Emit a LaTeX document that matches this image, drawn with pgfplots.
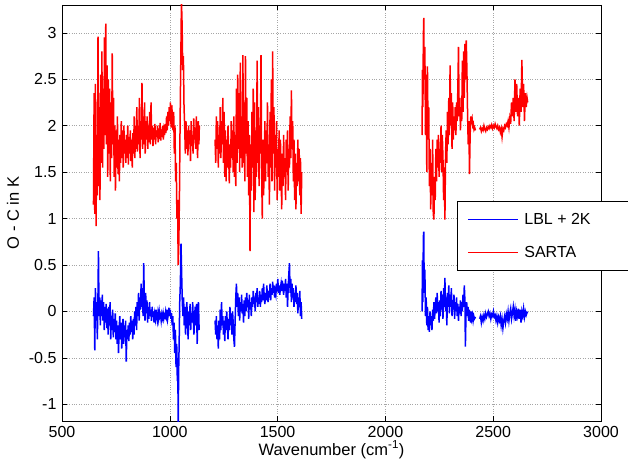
\documentclass[border=0pt]{standalone}
\usepackage{pgfplots}
\pgfplotsset{compat=1.18}
\usepackage{fontspec}
\setmainfont{Liberation Sans}
\definecolor{lblblue}{RGB}{0,0,255}
\definecolor{sartared}{RGB}{255,0,0}
\begin{document}
\begin{tikzpicture}
\begin{axis}[
  scale only axis,
  width=539pt, height=416pt,
  xmin=500, xmax=3000, ymin=-1.18, ymax=3.3,
  xtick={500,1000,...,3000},
  ytick={-1,-0.5,0,0.5,1,1.5,2,2.5,3},
  yticklabels={-1,-0.5,0,0.5,1,1.5,2,2.5,3},
  scaled ticks=false,
  /pgf/number format/1000 sep={},
  /pgf/number format/assume math mode=true,
  tick align=inside,
  major tick length=5pt,
  tick style={black, line width=0.6pt},
  axis line style={black, line width=0.6pt},
  grid=major,
  major grid style={gray!70, dotted, line width=0.6pt},
  ticklabel style={font=\fontsize{16}{19}\selectfont},
  xticklabel style={yshift=-2pt},
  yticklabel style={xshift=-2pt},
  xlabel={Wavenumber (cm\textsuperscript{-1})},
  ylabel={O - C in K},
  label style={font=\fontsize{16.5}{19}\selectfont},
  xlabel style={at={(rel axis cs:0.5,0)}, anchor=base, yshift=-34pt},
  ylabel style={at={(rel axis cs:0,0.5)}, anchor=center, yshift=49pt},
  legend cell align=left,
  legend image code/.code={\draw[#1, line width=1pt] (0pt,0pt) -- (50pt,0pt);},
  legend style={at={(rel axis cs:0.733,0.529)}, anchor=north west,
    draw=black, line width=0.6pt,
    inner xsep=10pt, inner ysep=12pt,
    row sep=20pt, column sep=6pt,
    nodes={inner sep=0pt, font=\fontsize{16}{19}\selectfont}},
  every axis plot/.append style={line width=1.5pt},
]
% ---- LBL + 2K : band 1 ----
\addplot[lblblue] coordinates {
(646,-0.05)(649,0.15)(652,-0.42)(655,0.25)(658,-0.10)(661,0.10)(664,-0.30)(667,0.20)
(669,0.65)(672,-0.05)(675,0.15)(678,-0.15)(681,0.12)(684,-0.05)(687,0.18)(690,-0.10)
(693,0.10)(696,-0.20)(699,0.05)(702,-0.12)(705,0.08)(708,-0.18)(711,0.03)(714,-0.25)
(717,0.05)(720,-0.15)(723,0.10)(726,-0.30)(729,-0.05)(732,-0.20)(735,0.02)(738,-0.28)
(741,-0.08)(744,-0.22)(747,-0.02)(750,-0.30)(753,-0.10)(756,-0.35)(759,-0.15)(762,-0.45)
(765,-0.20)(768,-0.05)(771,-0.30)(774,-0.12)(777,-0.40)(780,-0.20)(783,-0.08)(786,-0.35)
(789,-0.15)(792,-0.28)(795,-0.10)(798,-0.54)(801,-0.20)(804,-0.30)(807,-0.15)(810,-0.32)
(813,-0.12)(816,-0.25)(819,-0.05)(822,-0.22)(825,-0.10)(828,-0.30)(831,-0.08)(834,-0.25)
(837,0.00)(840,-0.15)(843,0.05)(846,-0.20)(849,0.10)(852,-0.05)(855,0.20)(858,-0.10)
(861,0.15)(864,0.02)(867,0.30)(870,0.05)(873,0.25)(876,-0.05)(879,0.52)(882,0.10)
(885,-0.10)(888,0.20)(891,-0.02)(894,0.12)(897,-0.12)(900,0.05)(903,-0.08)(906,0.10)
(909,-0.05)(912,0.02)(915,-0.10)(918,0.05)(921,-0.06)(924,0.00)(927,-0.12)(930,-0.03)
(933,-0.08)(936,0.02)(939,-0.05)(942,-0.10)(945,-0.02)(948,-0.08)(951,0.00)(954,-0.06)
(957,-0.04)(960,-0.10)(963,-0.03)(966,-0.07)(969,-0.02)(972,-0.08)(975,-0.04)(978,-0.06)
(981,0.00)(984,-0.05)(987,0.02)(990,-0.08)(993,-0.03)(996,0.04)(999,-0.05)(1002,0.02)
(1005,-0.08)(1008,-0.02)(1011,-0.15)(1014,-0.05)(1017,-0.30)(1020,-0.12)(1023,-0.45)(1026,-0.20)
(1029,-0.60)(1032,-0.35)(1035,-0.75)(1037,-0.50)(1039,-1.25)(1041,-0.65)(1043,-0.40)(1046,0.10)
(1049,0.30)(1052,0.73)(1055,0.40)(1058,0.10)(1061,-0.05)(1064,0.15)(1067,-0.15)(1070,0.05)
(1073,-0.25)(1076,-0.05)(1079,0.10)(1082,-0.10)(1085,-0.30)(1088,0.00)(1091,-0.15)(1094,0.08)
(1097,-0.20)(1100,-0.02)(1103,-0.12)(1106,0.10)(1109,-0.08)(1112,-0.25)(1115,-0.05)(1118,0.05)
(1121,-0.15)(1124,0.08)(1127,-0.35)(1130,-0.05)(1133,0.10)(1136,-0.20)
};
\addlegendentry{\makebox[95pt][l]{LBL + 2K}}
% ---- SARTA : band 1 ----
\addplot[sartared] coordinates {
(646,1.15)(649,2.35)(652,1.05)(655,2.45)(658,0.92)(661,1.90)(664,1.25)(667,2.96)
(670,1.35)(673,2.20)(676,1.20)(679,2.55)(682,1.60)(685,2.80)(688,1.55)(691,2.40)
(694,1.75)(697,2.95)(700,1.90)(703,3.10)(706,1.80)(709,2.65)(712,1.45)(715,2.50)
(718,1.70)(721,2.40)(724,1.40)(727,2.25)(730,1.65)(733,2.78)(736,1.80)(739,2.30)
(742,1.45)(745,2.00)(748,1.30)(751,1.95)(754,1.55)(757,2.10)(760,1.48)(763,1.85)
(766,1.40)(769,1.90)(772,1.60)(775,2.05)(778,1.65)(781,1.95)(784,1.55)(787,2.00)
(790,1.70)(793,1.85)(796,1.60)(799,1.90)(802,1.65)(805,2.00)(808,1.58)(811,1.88)
(814,1.70)(817,1.95)(820,1.62)(823,1.85)(826,1.55)(829,1.92)(832,1.70)(835,2.10)
(838,1.65)(841,2.00)(844,1.75)(847,2.20)(850,1.72)(853,2.00)(856,1.80)(859,2.30)
(862,1.65)(865,2.05)(868,1.85)(871,2.46)(874,1.75)(877,2.10)(880,1.80)(883,2.25)
(886,1.70)(889,2.05)(892,1.85)(895,2.10)(898,1.75)(901,2.00)(904,1.82)(907,2.15)
(910,1.80)(913,2.25)(916,1.85)(919,2.00)(922,1.78)(925,1.98)(928,1.85)(931,2.02)
(934,1.80)(937,1.95)(940,1.88)(943,2.00)(946,1.82)(949,1.97)(952,1.86)(955,2.03)
(958,1.84)(961,1.96)(964,1.88)(967,2.00)(970,1.85)(973,1.95)(976,1.90)(979,2.02)
(982,1.92)(985,2.10)(988,1.95)(991,2.15)(994,2.00)(997,2.20)(1000,2.05)(1003,2.25)
(1006,1.98)(1009,2.22)(1012,2.10)(1015,1.95)(1018,2.15)(1021,1.70)(1024,2.00)(1027,1.40)
(1030,1.60)(1033,1.00)(1036,1.20)(1039,0.50)(1042,0.75)(1045,1.30)(1048,2.10)(1051,2.70)
(1054,3.35)(1057,3.10)(1060,2.60)(1063,2.75)(1066,2.20)(1069,2.00)(1072,1.70)(1075,2.05)
(1078,1.75)(1081,1.95)(1084,1.68)(1087,2.00)(1090,1.80)(1093,1.95)(1096,1.62)(1099,2.05)
(1102,1.78)(1105,1.90)(1108,1.70)(1111,2.08)(1114,1.85)(1117,1.98)(1120,1.75)(1123,2.10)
(1126,1.85)(1129,1.65)(1132,2.05)(1135,1.80)(1137,2.00)
};
\addlegendentry{\makebox[95pt][l]{SARTA}}
% ---- LBL + 2K : band 2 ----
\addplot[lblblue, forget plot] coordinates {
(1210,-0.10)(1213,-0.25)(1216,-0.05)(1219,-0.30)(1222,-0.15)(1225,-0.40)(1228,-0.10)(1231,-0.30)
(1234,0.02)(1237,-0.20)(1240,0.10)(1243,-0.15)(1246,-0.05)(1249,-0.25)(1252,-0.10)(1255,-0.32)
(1258,-0.05)(1261,-0.20)(1264,0.00)(1267,-0.15)(1270,-0.30)(1273,-0.08)(1276,-0.20)(1279,0.05)
(1282,-0.15)(1285,-0.02)(1288,-0.25)(1291,0.00)(1294,-0.12)(1297,-0.30)(1300,-0.38)(1303,-0.10)
(1306,0.15)(1309,0.30)(1312,0.05)(1315,0.20)(1318,-0.05)(1321,0.15)(1324,-0.10)(1327,0.10)
(1330,0.00)(1333,0.18)(1336,-0.02)(1339,0.08)(1342,-0.12)(1345,0.12)(1348,-0.05)(1351,0.15)
(1354,0.00)(1357,0.20)(1360,0.05)(1363,0.12)(1366,-0.08)(1369,0.18)(1372,0.02)(1375,0.10)
(1378,-0.05)(1381,0.15)(1384,0.05)(1387,0.22)(1390,0.08)(1393,0.15)(1396,0.00)(1399,0.20)
(1402,0.10)(1405,0.25)(1408,0.05)(1411,0.15)(1414,0.08)(1417,0.22)(1420,0.05)(1423,0.18)
(1426,0.10)(1429,0.25)(1432,0.12)(1435,0.30)(1438,0.15)(1441,0.08)(1444,0.20)(1447,0.12)
(1450,0.28)(1453,0.15)(1456,0.10)(1459,0.22)(1462,0.15)(1465,0.30)(1468,0.12)(1471,0.25)
(1474,0.18)(1477,0.32)(1480,0.20)(1483,0.28)(1486,0.15)(1489,0.22)(1492,0.18)(1495,0.30)
(1498,0.22)(1501,0.35)(1504,0.20)(1507,0.28)(1510,0.18)(1513,0.25)(1516,0.30)(1519,0.22)
(1522,0.33)(1525,0.25)(1528,0.18)(1531,0.30)(1534,0.22)(1537,0.35)(1540,0.15)(1543,0.30)
(1546,0.05)(1549,0.25)(1552,0.40)(1555,0.52)(1558,0.20)(1561,0.35)(1564,0.10)(1567,0.30)
(1570,0.15)(1573,0.25)(1576,0.05)(1579,0.20)(1582,0.10)(1585,0.28)(1588,0.08)(1591,0.20)
(1594,-0.02)(1597,0.15)(1600,0.05)(1603,0.22)(1606,-0.05)(1609,0.10)(1612,-0.08)
};
% ---- SARTA : band 2 ----
\addplot[sartared, forget plot] coordinates {
(1210,1.85)(1213,1.60)(1216,2.10)(1219,1.75)(1222,2.05)(1225,1.55)(1228,1.90)(1231,1.70)
(1234,2.20)(1237,1.65)(1240,2.05)(1243,1.80)(1246,2.30)(1249,1.60)(1252,2.15)(1255,1.45)
(1258,1.95)(1261,1.40)(1264,1.85)(1267,1.55)(1270,2.00)(1273,1.70)(1276,1.38)(1279,1.80)
(1282,1.55)(1285,2.05)(1288,1.65)(1291,1.95)(1294,1.50)(1297,2.10)(1300,1.45)(1303,1.90)
(1306,1.35)(1309,2.40)(1312,1.60)(1315,2.55)(1318,1.75)(1321,2.35)(1324,1.50)(1327,2.68)
(1330,1.65)(1333,2.10)(1336,1.55)(1339,2.76)(1342,1.60)(1345,2.25)(1348,1.40)(1351,2.75)
(1354,1.70)(1357,2.30)(1360,1.45)(1363,2.05)(1366,1.25)(1369,1.90)(1372,0.65)(1375,1.80)
(1378,1.30)(1381,2.15)(1384,1.55)(1387,2.40)(1390,1.07)(1393,2.25)(1396,1.20)(1399,1.95)
(1402,1.45)(1405,2.70)(1408,1.60)(1411,2.20)(1414,1.35)(1417,2.00)(1420,1.70)(1423,2.76)
(1426,1.50)(1429,1.00)(1432,1.85)(1435,1.25)(1438,1.55)(1441,2.05)(1444,1.40)(1447,1.95)
(1450,1.60)(1453,2.25)(1456,1.45)(1459,1.80)(1462,1.15)(1465,2.15)(1468,1.55)(1471,2.50)
(1474,1.40)(1477,2.80)(1480,1.70)(1483,2.20)(1486,1.30)(1489,1.90)(1492,1.55)(1495,2.05)
(1498,1.20)(1501,1.75)(1504,1.45)(1507,1.95)(1510,1.30)(1513,1.85)(1516,1.55)(1519,1.10)
(1522,1.70)(1525,1.35)(1528,1.90)(1531,1.45)(1534,1.65)(1537,1.20)(1540,1.85)(1543,1.50)
(1546,1.95)(1549,1.30)(1552,1.75)(1555,1.55)(1558,2.10)(1561,1.65)(1564,2.38)(1567,1.75)
(1570,2.05)(1573,1.40)(1576,1.85)(1579,1.20)(1582,1.70)(1585,1.10)(1588,1.60)(1591,1.35)
(1594,1.85)(1597,1.40)(1600,1.75)(1603,1.25)(1606,1.65)(1609,1.05)(1612,1.50)
};
% ---- LBL + 2K : band 3 ----
\addplot[lblblue, forget plot] coordinates {
(2170,0.00)(2172,0.55)(2174,0.10)(2176,0.80)(2178,0.86)(2180,0.20)(2183,0.45)(2186,-0.05)
(2189,0.15)(2192,-0.15)(2195,0.05)(2198,-0.20)(2201,-0.05)(2204,-0.22)(2207,0.00)(2210,-0.15)
(2213,-0.05)(2216,-0.20)(2219,0.02)(2222,-0.10)(2225,0.10)(2228,-0.08)(2231,0.05)(2234,0.15)
(2237,-0.02)(2240,0.20)(2243,0.00)(2246,0.10)(2249,-0.12)(2252,0.12)(2255,-0.05)(2258,0.22)
(2261,0.02)(2264,0.18)(2267,-0.08)(2270,0.25)(2273,0.05)(2276,0.36)(2279,0.00)(2282,0.15)
(2285,-0.15)(2288,0.20)(2291,0.05)(2294,0.28)(2297,-0.02)(2300,0.18)(2303,0.05)(2306,0.25)
(2309,-0.05)(2312,0.12)(2315,0.02)(2318,0.18)(2321,-0.08)(2324,0.10)(2327,0.00)(2330,0.15)
(2333,-0.05)(2336,0.08)(2339,-0.10)(2342,0.05)(2345,-0.02)(2348,0.12)(2351,-0.05)(2354,0.10)
(2357,0.00)(2360,0.18)(2363,0.05)(2366,0.28)(2369,0.10)(2371,-0.38)(2374,0.00)(2377,0.10)
(2380,-0.05)(2383,0.05)(2386,-0.10)(2389,0.02)(2392,-0.05)(2395,-0.12)(2398,0.00)(2401,-0.08)
(2404,-0.04)(2407,-0.10)(2410,-0.05)(2413,-0.08)(2418,-0.06)
};
\addplot[lblblue, forget plot] coordinates {
(2437,-0.08)(2441,-0.05)(2445,-0.12)(2449,-0.06)(2453,-0.10)(2457,-0.04)(2461,-0.08)(2465,-0.02)
(2469,-0.06)(2473,-0.03)(2477,0.00)(2481,-0.05)(2485,-0.02)(2489,-0.08)(2493,-0.03)(2497,-0.05)
(2501,0.00)(2505,-0.06)(2509,-0.04)(2513,-0.10)(2517,-0.05)(2521,-0.12)(2525,-0.06)(2529,-0.10)
(2533,-0.05)(2537,-0.15)(2541,-0.08)(2545,-0.18)(2549,-0.10)(2553,-0.05)(2557,-0.12)(2561,-0.03)
(2565,-0.08)(2569,0.00)(2573,-0.10)(2577,-0.02)(2581,0.03)(2585,-0.08)(2589,-0.02)(2593,0.05)
(2597,-0.05)(2601,0.02)(2605,-0.10)(2609,0.00)(2613,-0.05)(2617,0.03)(2621,-0.08)(2625,0.02)
(2629,-0.12)(2633,0.00)(2637,-0.05)(2641,0.03)(2645,-0.06)(2649,0.00)(2653,-0.04)(2657,-0.01)
(2660,-0.02)
};
% ---- SARTA : band 3 ----
\addplot[sartared, forget plot] coordinates {
(2170,1.90)(2172,2.60)(2174,2.20)(2176,2.95)(2178,3.16)(2180,2.50)(2183,2.85)(2186,1.90)
(2189,2.55)(2192,1.50)(2195,2.64)(2198,1.85)(2201,2.20)(2204,1.35)(2207,1.75)(2210,1.10)
(2213,1.60)(2216,1.25)(2219,1.85)(2222,1.05)(2225,0.99)(2228,1.45)(2231,1.20)(2234,1.75)
(2237,1.40)(2240,1.85)(2243,1.55)(2246,1.90)(2249,1.45)(2252,1.75)(2255,1.60)(2258,2.00)
(2261,1.50)(2264,1.90)(2267,1.65)(2270,1.20)(2273,1.55)(2276,0.99)(2279,1.70)(2282,1.95)
(2285,1.60)(2288,2.15)(2291,1.80)(2294,2.30)(2297,1.90)(2300,2.65)(2303,2.00)(2306,2.35)
(2309,1.75)(2312,2.25)(2315,1.85)(2318,2.10)(2321,1.95)(2324,2.20)(2327,1.90)(2330,2.25)
(2333,2.05)(2336,2.40)(2339,2.85)(2342,2.10)(2345,2.30)(2348,1.95)(2351,2.20)(2354,2.05)
(2357,2.70)(2360,2.15)(2363,2.80)(2366,2.30)(2369,2.88)(2372,2.50)(2375,2.92)(2378,2.60)
(2381,2.15)(2384,1.80)(2387,2.05)(2390,1.48)(2393,1.90)(2396,2.10)(2399,2.05)(2402,2.08)
(2405,2.00)(2408,2.02)(2411,1.96)(2414,1.98)(2418,1.95)
};
\addplot[sartared, forget plot] coordinates {
(2437,1.96)(2441,1.98)(2445,1.94)(2449,1.97)(2453,1.95)(2457,2.00)(2461,1.96)(2465,1.94)
(2469,1.98)(2473,1.96)(2477,1.99)(2481,1.97)(2485,2.00)(2489,1.98)(2493,2.01)(2497,1.97)
(2501,2.00)(2505,1.98)(2509,2.02)(2513,1.99)(2517,1.97)(2521,2.00)(2525,1.96)(2529,1.98)
(2533,1.93)(2537,1.97)(2541,1.88)(2545,1.97)(2549,1.95)(2553,2.00)(2557,1.98)(2561,2.02)
(2565,2.00)(2569,2.05)(2573,1.98)(2577,2.08)(2581,2.02)(2585,2.25)(2589,2.10)(2593,2.30)
(2597,2.05)(2601,2.50)(2605,2.15)(2609,2.45)(2613,2.10)(2617,2.30)(2621,2.00)(2625,2.40)
(2629,2.15)(2633,2.71)(2637,2.20)(2641,2.45)(2645,2.05)(2649,2.35)(2653,2.20)(2657,2.30)
(2660,2.25)
};
\end{axis}
% page frame: fixed margins around the plot area
\pgfresetboundingbox
\path[use as bounding box] ([xshift=-62pt,yshift=-46pt]current axis.south west)
  rectangle ([xshift=27pt,yshift=5pt]current axis.north east);
\end{tikzpicture}
\end{document}
